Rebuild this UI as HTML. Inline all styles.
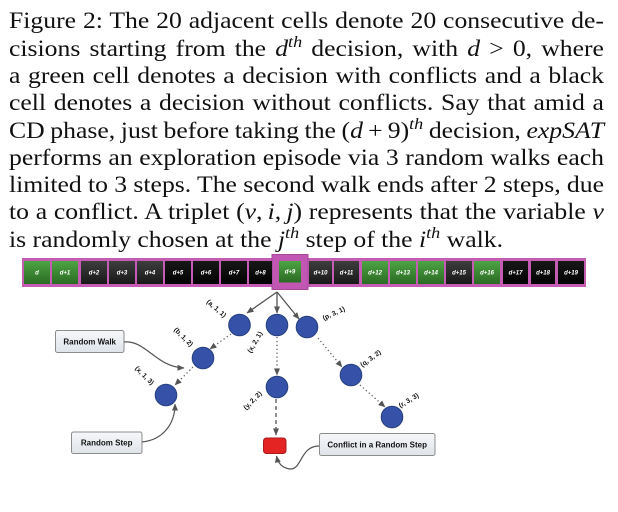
<!DOCTYPE html>
<html><head><meta charset="utf-8">
<style>
html,body{margin:0;padding:0;background:#fff;}
body{width:618px;height:512px;position:relative;overflow:hidden;}
#txt{position:absolute;left:9px;top:7.4px;width:525.6px;transform:scaleX(1.132);transform-origin:0 0;
 font-family:"Liberation Serif",serif;font-size:22.7px;line-height:27.3px;color:#111;}
#txt div{height:27.3px;}
.j{text-align:justify;text-align-last:justify;word-spacing:-3px;}
.s{font-size:16px;vertical-align:9px;line-height:0;font-style:italic;}
i{font-style:italic;}
svg{position:absolute;left:0;top:0;}
</style></head><body>
<div id="txt">
<div class="j">Figure 2: The 20 adjacent cells denote 20 consecutive de-</div>
<div class="j">cisions starting from the <i>d</i><span class="s">th</span> decision, with <i>d</i> &gt; 0, where</div>
<div class="j">a green cell denotes a decision with conflicts and a black</div>
<div class="j">cell denotes a decision without conflicts. Say that amid a</div>
<div class="j">CD phase, just before taking the (<i>d</i>&#8201;+&#8201;9)<span class="s">th</span> decision, <i>expSAT</i></div>
<div class="j">performs an exploration episode via 3 random walks each</div>
<div class="j">limited to 3 steps. The second walk ends after 2 steps, due</div>
<div class="j">to a conflict. A triplet (<i>v</i>,&#8201;<i>i</i>,&#8201;<i>j</i>) represents that the variable <i>v</i></div>
<div>is randomly chosen at the <i>j</i><span class="s">th</span> step of the <i>i</i><span class="s">th</span> walk.</div>
</div>

<svg width="618" height="512" viewBox="0 0 618 512" xmlns="http://www.w3.org/2000/svg">
<defs>
<linearGradient id="gG" x1="0" y1="0" x2="0" y2="1"><stop offset="0" stop-color="#4da443"/><stop offset="1" stop-color="#2b6a24"/></linearGradient>
<linearGradient id="gD" x1="0" y1="0" x2="0" y2="1"><stop offset="0" stop-color="#3e3e3e"/><stop offset="1" stop-color="#181818"/></linearGradient>
<linearGradient id="gB" x1="0" y1="0" x2="0" y2="1"><stop offset="0" stop-color="#181818"/><stop offset="1" stop-color="#020202"/></linearGradient>
<linearGradient id="gBox" x1="0" y1="0" x2="0" y2="1"><stop offset="0" stop-color="#f6f7f9"/><stop offset="1" stop-color="#dfe4ea"/></linearGradient>
<marker id="ah" markerWidth="7" markerHeight="6" refX="6.5" refY="3" orient="auto" markerUnits="userSpaceOnUse"><path d="M0,0 L7,3 L0,6 z" fill="#555"/></marker>
</defs>

<!-- cell bar -->
<rect x="22" y="258" width="564" height="29" fill="#c45cb4"/>
<rect x="272" y="254.5" width="36" height="35" fill="#c257b3" stroke="#a8489c" stroke-width="1"/>
<g font-family="Liberation Sans, sans-serif" font-size="6" font-weight="bold" font-style="italic" fill="#fff" text-anchor="middle">
<rect x="24" y="261" width="26" height="23" fill="url(#gG)"/><text x="37" y="274.5">d</text>
<rect x="52" y="261" width="26" height="23" fill="url(#gG)"/><text x="65" y="274.5">d+1</text>
<rect x="81" y="261" width="26" height="23" fill="url(#gD)"/><text x="94" y="274.5">d+2</text>
<rect x="109" y="261" width="26" height="23" fill="url(#gD)"/><text x="122" y="274.5">d+3</text>
<rect x="137" y="261" width="26" height="23" fill="url(#gD)"/><text x="150" y="274.5">d+4</text>
<rect x="165" y="261" width="26" height="23" fill="url(#gB)"/><text x="178" y="274.5">d+5</text>
<rect x="193" y="261" width="26" height="23" fill="url(#gB)"/><text x="206" y="274.5">d+6</text>
<rect x="221" y="261" width="26" height="23" fill="url(#gB)"/><text x="234" y="274.5">d+7</text>
<rect x="249" y="261" width="23" height="23" fill="url(#gB)"/><text x="260.5" y="274.5">d+8</text>
<rect x="279" y="261" width="22" height="21.5" fill="url(#gG)"/><text x="290" y="273.5">d+9</text>
<rect x="309" y="261" width="23" height="23" fill="url(#gD)"/><text x="320.5" y="274.5">d+10</text>
<rect x="334" y="261" width="25" height="23" fill="url(#gD)"/><text x="346.5" y="274.5">d+11</text>
<rect x="362" y="261" width="26" height="23" fill="url(#gG)"/><text x="375" y="274.5">d+12</text>
<rect x="390" y="261" width="26" height="23" fill="url(#gG)"/><text x="403" y="274.5">d+13</text>
<rect x="418" y="261" width="26" height="23" fill="url(#gG)"/><text x="431" y="274.5">d+14</text>
<rect x="446" y="261" width="26" height="23" fill="url(#gD)"/><text x="459" y="274.5">d+15</text>
<rect x="474" y="261" width="26" height="23" fill="url(#gG)"/><text x="487" y="274.5">d+16</text>
<rect x="503" y="261" width="25" height="23" fill="url(#gB)"/><text x="515.5" y="274.5">d+17</text>
<rect x="531" y="261" width="24" height="23" fill="url(#gB)"/><text x="543" y="274.5">d+18</text>
<rect x="558" y="261" width="26" height="23" fill="url(#gB)"/><text x="571" y="274.5">d+19</text>
</g>

<!-- solid arrows -->
<g stroke="#555" stroke-width="1.3" fill="none">
<line x1="277" y1="292" x2="247" y2="313" marker-end="url(#ah)"/>
<line x1="277" y1="292" x2="277" y2="313" marker-end="url(#ah)"/>
<line x1="277" y1="292" x2="299" y2="319" marker-end="url(#ah)"/>
</g>
<!-- dotted arrows -->
<g stroke="#666" stroke-width="1.3" fill="none" stroke-dasharray="1.3 2.6">
<line x1="231" y1="334" x2="210" y2="349" marker-end="url(#ah)"/>
<line x1="193" y1="367" x2="175" y2="385" marker-end="url(#ah)"/>
<line x1="277" y1="337" x2="277" y2="375" marker-end="url(#ah)"/>
<line x1="318" y1="338" x2="342" y2="367" marker-end="url(#ah)"/>
<line x1="360" y1="385" x2="385" y2="407" marker-end="url(#ah)"/>
</g>
<line x1="276" y1="399" x2="276" y2="435" stroke="#555" stroke-width="1.3" stroke-dasharray="4 3" marker-end="url(#ah)"/>

<!-- nodes -->
<g fill="#3551a8" stroke="#27407f" stroke-width="1">
<circle cx="239.5" cy="325" r="10.8"/>
<circle cx="277" cy="325" r="10.8"/>
<circle cx="307" cy="327" r="10.8"/>
<circle cx="203" cy="358" r="10.8"/>
<circle cx="166" cy="395" r="10.8"/>
<circle cx="277" cy="387" r="10.8"/>
<circle cx="351" cy="375" r="10.8"/>
<circle cx="392" cy="417" r="10.8"/>
</g>
<rect x="263.5" y="438" width="22.5" height="15.5" rx="3" fill="#e42323" stroke="#a81c1c" stroke-width="1"/>

<!-- node labels -->
<g font-family="Liberation Sans, sans-serif" font-size="6.8" font-weight="bold" fill="#111" text-anchor="middle" dominant-baseline="central">
<text transform="translate(216,309) rotate(41)">(a, 1, 1)</text>
<text transform="translate(183,337.5) rotate(45)">(b, 1, 2)</text>
<text transform="translate(144,376) rotate(45)">(x, 1, 3)</text>
<text transform="translate(255.5,342.5) rotate(-60)">(x, 2, 1)</text>
<text transform="translate(253,401) rotate(-45)">(y, 2, 2)</text>
<text transform="translate(334,314) rotate(-25)">(p, 3, 1)</text>
<text transform="translate(371,359) rotate(-36)">(q, 3, 2)</text>
<text transform="translate(409,401) rotate(-31)">(r, 3, 3)</text>
</g>

<!-- callout boxes -->
<g stroke="#8c8c8c" stroke-width="1" fill="url(#gBox)">
<rect x="55.5" y="330.5" width="68.5" height="22" rx="2"/>
<rect x="71.5" y="432" width="70.5" height="21.5" rx="2"/>
<rect x="319.5" y="433.5" width="115.5" height="22" rx="2"/>
</g>
<g font-family="Liberation Sans, sans-serif" font-size="8" font-weight="bold" fill="#111" text-anchor="middle">
<text x="89.7" y="344.5">Random Walk</text>
<text x="106.7" y="445.7">Random Step</text>
<text x="377.2" y="447.5">Conflict in a Random Step</text>
</g>

<!-- curved connectors -->
<g stroke="#555" stroke-width="1.2" fill="none">
<path d="M124,342 C146,340 156,367 184,368" marker-end="url(#ah)"/>
<path d="M142,442 C162,440 175,425 175,404" marker-end="url(#ah)"/>
<path d="M319,446 C300,446 302,470 290,469 C282,468 278,463 276.5,456" marker-end="url(#ah)"/>
</g>
</svg>
</body></html>
